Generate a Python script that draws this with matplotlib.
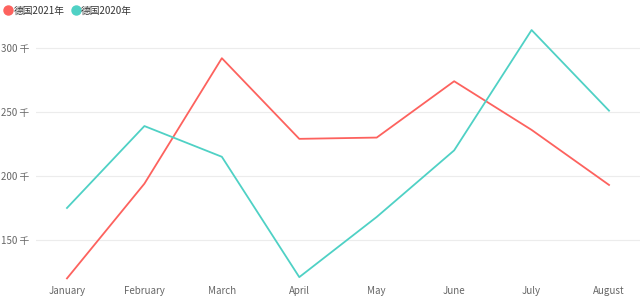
import matplotlib
matplotlib.use("Agg")
import matplotlib.pyplot as plt
from matplotlib.lines import Line2D

plt.rcParams['font.family'] = ['Noto Sans CJK SC', 'DejaVu Sans']

# 数据
months = ["January", "February", "March", "April", "May", "June", "July", "August"]
de_2021 = [120, 194, 292, 229, 230, 274, 236, 193]
de_2020 = [175, 239, 215, 121, 168, 220, 314, 251]
y_ticks = [150, 200, 250, 300]
y_tick_labels = ["150 千", "200 千", "250 千", "300 千"]

c_red = "#fd625e"
c_teal = "#4fd1c5"
c_text = "#666666"

fig = plt.figure(figsize=(6.4, 2.98), dpi=100)
ax = fig.add_axes([0.05625, 0.0503, 0.94375, 0.876])

x = range(len(months))
ax.plot(x, de_2021, color=c_red, linewidth=1.3)
ax.plot(x, de_2020, color=c_teal, linewidth=1.3)

ax.set_xlim(-0.4, 7.4)
ax.set_ylim(116.4, 320.3)
ax.set_xticks(list(x))
ax.set_xticklabels(months)
ax.set_yticks(y_ticks)
ax.set_yticklabels(y_tick_labels)
ax.tick_params(axis='both', length=0, labelsize=7, labelcolor=c_text)
ax.tick_params(axis='x', pad=2)
ax.tick_params(axis='y', pad=5)
ax.grid(axis='y', color="#ececec", linewidth=0.8)
ax.set_axisbelow(True)
for s in ax.spines.values():
    s.set_visible(False)

# 图例
handles = [
    Line2D([], [], marker='o', linestyle='', color=c_red, markersize=6.5),
    Line2D([], [], marker='o', linestyle='', color=c_teal, markersize=6.5),
]
fig.legend(handles, ["德国2021年", "德国2020年"], loc='upper left',
           bbox_to_anchor=(-0.008, 1.01), ncol=2, frameon=False,
           fontsize=7, handletextpad=0.05, columnspacing=0.6,
           handlelength=1.0, labelcolor="#333333")

fig.savefig("out.png", dpi=100)
